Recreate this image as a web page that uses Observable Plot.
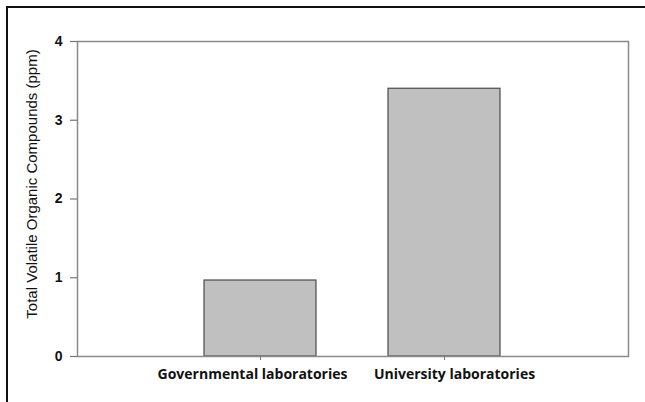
<!DOCTYPE html>
<html>
<head>
<meta charset="utf-8">
<script src="https://cdn.jsdelivr.net/npm/d3@7"></script>
<script src="https://cdn.jsdelivr.net/npm/@observablehq/plot@0.6"></script>
<style>
  html, body { margin: 0; padding: 0; background: #fff; overflow: hidden; }
  #wrap { position: relative; width: 645px; height: 402px; }
  #border { position: absolute; left: 6px; top: 6px; width: 700px; height: 500px;
            border-left: 2px solid #111; border-top: 2px solid #111; pointer-events: none; }
  #chart { position: absolute; left: 0; top: 0; }
</style>
</head>
<body>
<div id="wrap"><div id="chart"></div><div id="border"></div></div>
<script>
const categories = ["Governmental laboratories", "University laboratories"];
const values = [0.965, 3.40];
const yTicks = [0, 1, 2, 3, 4];
const yTitle = "Total Volatile Organic Compounds (ppm)";

const data = categories.map((c, i) => ({lab: c, value: values[i]}));
const arial = "'Liberation Sans', Arial, sans-serif";
const labelFont = {fontFamily: "'Open Sans', sans-serif", fontSize: 14, fontWeight: "bold", tickSize: 0, tickPadding: 13, label: null};

const chart = Plot.plot({
  width: 645,
  height: 402,
  marginLeft: 77,
  marginRight: 17,
  marginTop: 41,
  marginBottom: 46,
  style: {background: "transparent", color: "#111", fontFamily: arial},
  x: {domain: categories, paddingInner: 0.39, paddingOuter: 0.69, label: null},
  y: {domain: [0, 4], label: null},
  marks: [
    Plot.barY(data, {x: "lab", y: "value", fill: "#c0c0c0", stroke: "#4a4a4a", strokeWidth: 1.2}),
    Plot.frame({stroke: "#8a8a8a", strokeWidth: 1.5}),
    Plot.axisY({ticks: yTicks, tickFormat: d3.format("d"), tickSize: 7, tickPadding: 8, stroke: "#777", strokeWidth: 1.2,
      fontFamily: arial, fontSize: 14, fontWeight: "bold", label: null}),
    Plot.axisX({tickSize: 4, stroke: "#777", tickFormat: () => "", label: null}),
    Plot.axisX({...labelFont, ticks: [categories[0]], dx: -8}),
    Plot.axisX({...labelFont, ticks: [categories[1]], dx: 10}),
    Plot.text([yTitle], {frameAnchor: "left", text: d => d, rotate: -90, dx: -45, dy: -15,
      textAnchor: "middle", fontFamily: arial, fontSize: 15, fill: "#111"})
  ]
});
document.getElementById("chart").appendChild(chart);
</script>
</body>
</html>
